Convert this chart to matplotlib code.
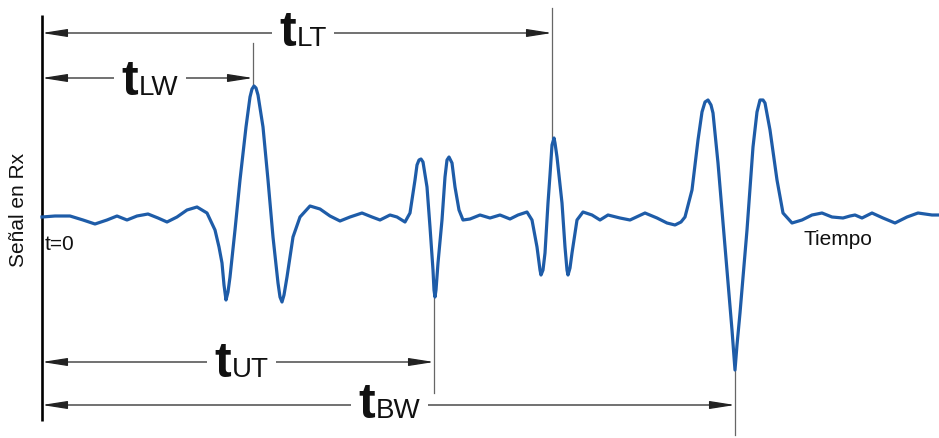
import matplotlib
matplotlib.use("Agg")
import matplotlib.pyplot as plt

plt.rcParams['font.family'] = ['Liberation Sans', 'DejaVu Sans']

# señal recibida (tiempo desde t=0, amplitud respecto a la línea base)
tiempo = [0, 13, 28, 41, 53, 65, 75, 85, 95, 106, 116, 125, 135, 145, 155, 165,
          173, 177, 180, 182, 184, 186, 188, 193, 198, 204, 208, 210, 212, 214,
          216, 221, 226, 231, 236, 238, 240, 242, 245, 251, 258, 268, 278, 288,
          298, 308, 320, 330, 338, 348, 355, 363, 368, 373, 375, 377, 379, 381,
          385, 388, 391, 392, 393, 394, 396, 400, 403, 405, 407, 410, 413, 417,
          421, 428, 438, 448, 458, 468, 476, 485, 490, 495, 498, 499, 501, 503,
          506, 508, 510, 512, 513, 515, 520, 523, 525, 526, 528, 530, 535, 541,
          550, 558, 566, 578, 588, 603, 615, 625, 633, 639, 643, 650, 656, 660,
          663, 666, 669, 671, 676, 683, 690, 693, 695, 698, 705, 711, 715, 718,
          721, 723, 728, 735, 741, 750, 760, 770, 780, 790, 801, 808, 813, 820,
          830, 841, 853, 865, 876, 890, 897]
amplitud = [-1, 0, 0, -4, -8, -4, 0, -4, 0, 2, -2, -6, -1, 6, 9, 3,
            -14, -31, -47, -69, -84, -76, -61, -14, 36, 89, 119, 127, 130, 128,
            121, 89, 36, -21, -67, -81, -86, -79, -61, -21, -1, 10, 7, 0,
            -5, -1, 3, -1, -4, 1, -1, -6, 3, 36, 51, 56, 57, 54,
            29, -11, -54, -74, -81, -74, -47, -4, 39, 56, 59, 53, 29, 6,
            -4, -3, 1, -2, 1, -3, 1, 4, -4, -31, -54, -59, -54, -37,
            13, 41, 71, 78, 73, 59, 13, -31, -54, -59, -52, -37, -4, 4,
            1, -4, 1, -2, -4, 3, -2, -7, -9, -6, -1, 26, 76, 104,
            114, 116, 111, 103, 53, -31, -114, -154, -129, -97, -14, 69, 104, 116,
            116, 113, 86, 36, 3, -7, -4, 1, 3, -1, -2, 0, 1, -2,
            3, -2, -7, -1, 3, 1, 1]

# tiempos marcados
t_lw = 211
t_lt = 510
t_ut = 392
t_bw = 693

etiquetas = ['LT', 'LW', 'UT', 'BW']
tiempos_cota = [t_lt, t_lw, t_ut, t_bw]
altura_cota = [183, 138, -146, -189]
texto_x = [254, 96, 189, 333]
texto_y = [170, 121, -161, -202]

# líneas guía verticales: (tiempo, desde, hasta)
guias = [(t_lw, 173, 130), (t_lt, 208, 78), (t_ut, -81, -177), (t_bw, -154, -219)]

fig = plt.figure(figsize=(9.39, 4.38), dpi=100)
ax = fig.add_axes([0, 0, 1, 1])
ax.set_xlim(-42, 897)
ax.set_ylim(-222, 216)
ax.axis('off')

# eje vertical
ax.plot([0, 0], [201, -205], color='black', lw=1.9, solid_capstyle='butt')

ax.plot(tiempo, amplitud, color='#1e5ca8', lw=2.3, solid_joinstyle='round', zorder=4)

for tx, y0, y1 in guias:
    ax.plot([tx, tx], [y0, y1], color='#666666', lw=0.9, zorder=1)

for lab, tc, yc, xt, yt in zip(etiquetas, tiempos_cota, altura_cota, texto_x, texto_y):
    ax.annotate('', xy=(tc, yc), xytext=(0, yc),
                arrowprops=dict(arrowstyle='<|-|>,head_length=1.4,head_width=0.22',
                                mutation_scale=11, color='#222222', lw=0.9,
                                shrinkA=0, shrinkB=0), zorder=1)
    # primero los fondos blancos que cortan la flecha, luego el texto encima
    for col, z, caja in [('white', 2, dict(facecolor='white', edgecolor='none', pad=5)),
                         ('#111111', 5, None)]:
        ax.text(xt, yt, 't', ha='right', va='baseline', fontsize=36,
                fontweight='bold', color=col, zorder=z, bbox=caja)
        ax.text(xt + 1, yt, lab, ha='left', va='baseline', fontsize=20,
                color=col, zorder=z, bbox=caja)

ax.text(3, -34, 't=0', ha='left', va='baseline', fontsize=15, color='#111111')
ax.text(761, -29, 'Tiempo', ha='left', va='baseline', fontsize=15, color='#111111')
ax.text(-24, 6, 'Señal en Rx', ha='center', va='center', rotation=90,
        fontsize=15, color='#111111')

fig.savefig('out.png', dpi=100)
